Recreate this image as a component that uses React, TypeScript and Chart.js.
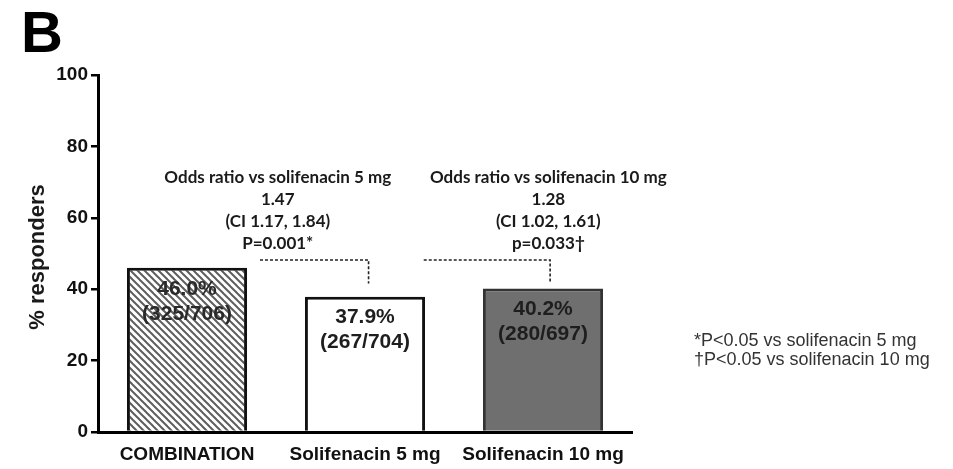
import { useEffect, useRef } from 'react';
import { Chart, registerables } from 'chart.js';

Chart.register(...registerables);

// ---- data ----
const categories = ['COMBINATION', 'Solifenacin 5 mg', 'Solifenacin 10 mg'];
const responderPct = [46.0, 37.9, 40.2];
const responderCounts = ['(325/706)', '(267/704)', '(280/697)'];
const yMin = 0;
const yMax = 100;
const yStep = 20;
const oddsRatioVs5 = ['Odds ratio vs solifenacin 5 mg', '1.47', '(CI 1.17, 1.84)', 'P=0.001*'];
const oddsRatioVs10 = ['Odds ratio vs solifenacin 10 mg', '1.28', '(CI 1.02, 1.61)', 'p=0.033\u2020'];
const footnotes = ['*P<0.05 vs solifenacin 5 mg', '\u2020P<0.05 vs solifenacin 10 mg'];
const panelLetter = 'B';
const yTitle = '% responders';

// comparison brackets (category index positions, value levels)
const bracketStart = [0.41, 1.33];
const bracketEnd = [1.02, 2.04];
const bracketLevel = [48.2, 48.2];
const bracketDrop = [41.6, 42.0];
const annotationCenter = [0.51, 2.03];
const annotationTop = 71.4;

function makeHatch(): CanvasPattern | string {
  const s = 7;
  const c = document.createElement('canvas');
  c.width = s;
  c.height = s;
  const g = c.getContext('2d');
  if (!g) return '#aaa';
  g.fillStyle = '#ffffff';
  g.fillRect(0, 0, s, s);
  g.strokeStyle = '#5e5e5e';
  g.lineWidth = 2.0;
  for (const x0 of [-s, 0, s]) {
    g.beginPath();
    g.moveTo(x0 - 1, -1);
    g.lineTo(x0 + s + 1, s + 1);
    g.stroke();
  }
  const p = g.createPattern(c, 'repeat');
  return p || '#aaa';
}

const annotationPlugin = {
  id: 'annotations',
  afterDatasetsDraw(chart: any) {
    const ctx: CanvasRenderingContext2D = chart.ctx;
    const xs = chart.scales.x;
    const ys = chart.scales.y;
    ctx.save();

    // bar value labels
    responderPct.forEach((v, i) => {
      const cx = xs.getPixelForValue(i);
      const top = ys.getPixelForValue(v);
      ctx.fillStyle = i === 0 ? '#2a2a2a' : '#1e1e1e';
      ctx.font = 'bold 21px "Liberation Sans", Arial, sans-serif';
      ctx.textAlign = 'center';
      ctx.textBaseline = 'middle';
      ctx.fillText(v.toFixed(1) + '%', cx, top + 21);
      ctx.fillText(responderCounts[i], cx, top + 46);
    });

    // brackets
    ctx.strokeStyle = '#222';
    ctx.lineWidth = 1.6;
    ctx.setLineDash([3, 2]);
    bracketStart.forEach((s, i) => {
      const x1 = xs.getPixelForValue(s);
      const x2 = xs.getPixelForValue(bracketEnd[i]);
      const y1 = ys.getPixelForValue(bracketLevel[i]);
      const y2 = ys.getPixelForValue(bracketDrop[i]);
      ctx.beginPath();
      ctx.moveTo(x1, y1);
      ctx.lineTo(x2, y1);
      ctx.lineTo(x2, y2);
      ctx.stroke();
    });
    ctx.setLineDash([]);

    // odds ratio annotations
    ctx.fillStyle = '#1a1a1a';
    ctx.font = 'bold 17px Lato, "Open Sans", sans-serif';
    ctx.textAlign = 'center';
    ctx.textBaseline = 'middle';
    [oddsRatioVs5, oddsRatioVs10].forEach((lines, i) => {
      const cx = xs.getPixelForValue(annotationCenter[i]);
      const y0 = ys.getPixelForValue(annotationTop);
      lines.forEach((t, k) => ctx.fillText(t, cx, y0 + k * 22));
    });

    ctx.restore();
  },
  afterDraw(chart: any) {
    const ctx: CanvasRenderingContext2D = chart.ctx;
    ctx.save();
    // panel letter
    ctx.fillStyle = '#000';
    ctx.font = 'bold 58px "Liberation Sans", Arial, sans-serif';
    ctx.textAlign = 'left';
    ctx.textBaseline = 'alphabetic';
    ctx.fillText(panelLetter, 21, 52);

    // y title
    ctx.save();
    ctx.translate(38, 257);
    ctx.rotate(-Math.PI / 2);
    ctx.font = 'bold 22px "Liberation Sans", Arial, sans-serif';
    ctx.fillStyle = '#1a1a1a';
    ctx.textAlign = 'center';
    ctx.textBaseline = 'middle';
    ctx.fillText(yTitle, 0, 0);
    ctx.restore();

    // footnotes
    ctx.font = '18px "Liberation Sans", Arial, sans-serif';
    ctx.fillStyle = '#333';
    ctx.textAlign = 'left';
    ctx.textBaseline = 'middle';
    footnotes.forEach((t, k) => ctx.fillText(t, 694, 341 + k * 19));
    ctx.restore();
  },
};

export default function App() {
  const ref = useRef<HTMLCanvasElement | null>(null);
  useEffect(() => {
    if (!ref.current) return;
    const hatch = makeHatch();
    const chart = new Chart(ref.current, {
      type: 'bar',
      data: {
        labels: categories,
        datasets: [
          {
            data: responderPct,
            backgroundColor: [hatch, '#ffffff', '#6f6f6f'],
            borderColor: ['#111111', '#111111', '#333333'],
            borderWidth: 3,
            barPercentage: 0.675,
            categoryPercentage: 1,
          },
        ],
      },
      options: {
        responsive: false,
        animation: false,
        layout: { padding: { left: 0, right: 321, top: 75, bottom: 0 } },
        plugins: { legend: { display: false }, tooltip: { enabled: false } },
        scales: {
          x: {
            grid: { display: false },
            border: { display: true, color: '#000', width: 3 },
            ticks: {
              color: '#111',
              padding: 3,
              font: { family: '"Liberation Sans", Arial, sans-serif', size: 19, weight: 'bold' },
              maxRotation: 0,
              autoSkip: false,
            },
            afterFit(scale: any) {
              scale.height = 37;
            },
          },
          y: {
            min: yMin,
            max: yMax,
            grid: { drawOnChartArea: false, drawTicks: true, tickLength: 7, color: '#000', lineWidth: 2.5 },
            border: { display: true, color: '#000', width: 3 },
            ticks: {
              stepSize: yStep,
              color: '#111',
              padding: 3,
              font: { family: '"Liberation Sans", Arial, sans-serif', size: 19, weight: 'bold' },
            },
            afterFit(scale: any) {
              scale.width = 98;
            },
          },
        },
      },
      plugins: [annotationPlugin],
    });
    return () => chart.destroy();
  }, []);
  return (
    <div style={{ position: 'absolute', left: 0, top: 0, width: 953, height: 469, background: '#fff' }}>
      <canvas ref={ref} width={953} height={469} />
    </div>
  );
}
